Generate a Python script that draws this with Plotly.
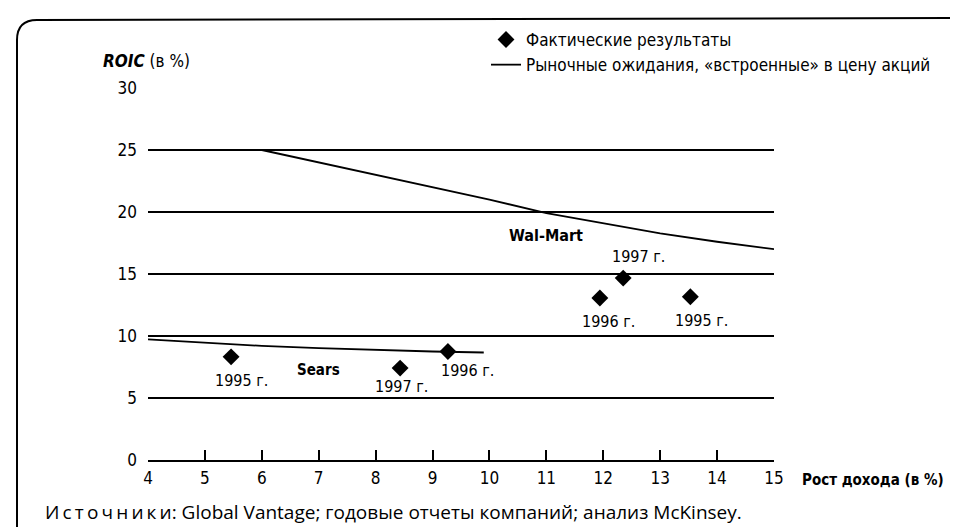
import plotly.graph_objects as go

# ---- data ----
walmart_line_x = [6, 7, 8, 9, 10, 11, 12, 13, 14, 15]
walmart_line_y = [25.0, 24.0, 23.0, 22.0, 21.0, 19.9, 19.07, 18.27, 17.6, 17.0]
sears_line_x = [4, 5, 6, 7, 8, 9, 9.9]
sears_line_y = [9.73, 9.45, 9.2, 9.02, 8.86, 8.75, 8.67]

sears_pts_x = [5.46, 9.27, 8.43]
sears_pts_y = [8.32, 8.75, 7.41]
walmart_pts_x = [13.53, 11.94, 12.35]
walmart_pts_y = [13.17, 13.07, 14.67]

point_labels = ["1995 г.", "1996 г.", "1997 г."]
sears_label_x = [5.65, 9.62, 8.46]
sears_label_y = [6.4, 7.2, 5.92]
walmart_label_x = [13.73, 12.09, 12.62]
walmart_label_y = [11.28, 11.2, 16.4]

x_ticks = list(range(4, 16))
y_ticks = [0, 5, 10, 15, 20, 25, 30]

legend_points = "Фактические результаты"
legend_line = "Рыночные ожидания, «встроенные» в цену акций"

# ---- layout geometry ----
W, H = 958, 527
L, R, T, B = 140, 192, 80, 75
PW, PH = W - L - R, H - T - B


def px2x(px):
    return (px - L) / PW


def py2y(py):
    return (H - B - py) / PH


NARROW = "Liberation Sans Narrow, Arial Narrow, DejaVu Sans Condensed, sans-serif"
BLACK = "#000000"

fig = go.Figure()

fig.add_trace(go.Scatter(
    x=sears_pts_x + walmart_pts_x, y=sears_pts_y + walmart_pts_y,
    mode="markers", name=legend_points,
    marker=dict(symbol="diamond", size=13, color=BLACK),
    showlegend=True,
))
fig.add_trace(go.Scatter(
    x=walmart_line_x, y=walmart_line_y, mode="lines", name=legend_line,
    line=dict(color=BLACK, width=1.8), showlegend=True,
))
fig.add_trace(go.Scatter(
    x=sears_line_x, y=sears_line_y, mode="lines", name=legend_line,
    line=dict(color=BLACK, width=1.8), showlegend=False,
))

# point labels
for xs, ys in ((sears_label_x, sears_label_y), (walmart_label_x, walmart_label_y)):
    for t, x, y in zip(point_labels, xs, ys):
        fig.add_annotation(x=x, y=y, text=t, showarrow=False,
                           font=dict(family=NARROW, size=16, color=BLACK))

fig.add_annotation(x=7.0, y=7.28, text="<b>Sears</b>", showarrow=False,
                   font=dict(family=NARROW, size=15, color=BLACK))
fig.add_annotation(x=11.0, y=18.08, text="<b>Wal-Mart</b>", showarrow=False,
                   font=dict(family=NARROW, size=16, color=BLACK))

# axis titles
fig.add_annotation(xref="paper", yref="paper", x=px2x(93), y=py2y(53),
                   xanchor="left", yanchor="middle", showarrow=False,
                   text="<b><i>ROIC</i></b> (в %)",
                   font=dict(family=NARROW, size=17, color=BLACK))
fig.add_annotation(xref="paper", yref="paper", x=px2x(792), y=py2y(472),
                   xanchor="left", yanchor="middle", showarrow=False,
                   text="<b>Рост дохода (в %)</b>",
                   font=dict(family=NARROW, size=15, color=BLACK))
fig.add_annotation(xref="paper", yref="paper", x=px2x(35), y=py2y(504),
                   xanchor="left", yanchor="middle", showarrow=False,
                   text="И\u2009с\u2009т\u2009о\u2009ч\u2009н\u2009и\u2009к\u2009и: Global Vantage; годовые отчеты компаний; анализ McKinsey.",
                   font=dict(family="Open Sans, sans-serif", size=19, color=BLACK))

# frame
x0, x1 = px2x(9), px2x(957)
y_top, y_bot = py2y(12), py2y(540)
r = 20
fig.add_shape(type="path", xref="paper", yref="paper",
              path=(f"M {x0},{y_bot} L {x0},{py2y(12 + r)} "
                    f"Q {x0},{y_top} {px2x(9 + r)},{y_top} "
                    f"L {px2x(957 - 10)},{py2y(10)} "
                    f"Q {x1},{py2y(10)} {x1},{py2y(22)}"),
              line=dict(color=BLACK, width=2))

fig.update_layout(
    width=W, height=H,
    margin=dict(l=L, r=R, t=T, b=B),
    paper_bgcolor="white", plot_bgcolor="white",
    font=dict(family=NARROW, size=18, color=BLACK),
    showlegend=True,
    legend=dict(x=px2x(478), y=py2y(14), xanchor="left", yanchor="top",
                font=dict(family=NARROW, size=17, color=BLACK),
                bgcolor="rgba(0,0,0,0)", tracegroupgap=0, itemwidth=30),
    xaxis=dict(range=[4, 15], tickvals=x_ticks, ticktext=[str(v) for v in x_ticks],
               showgrid=False, zeroline=False, showline=True, linecolor=BLACK,
               linewidth=1.5, ticks="inside", ticklen=10, tickwidth=1.5,
               tickcolor=BLACK, ticklabelstandoff=2,
               tickfont=dict(family=NARROW, size=17, color=BLACK)),
    yaxis=dict(range=[0, 30], tickvals=y_ticks, ticktext=[str(v) for v in y_ticks],
               showgrid=True, gridcolor=BLACK, gridwidth=1.5, zeroline=False,
               showline=False, ticks="", ticklabelstandoff=10,
               tickfont=dict(family=NARROW, size=17, color=BLACK)),
)

fig.write_html("out.html")
